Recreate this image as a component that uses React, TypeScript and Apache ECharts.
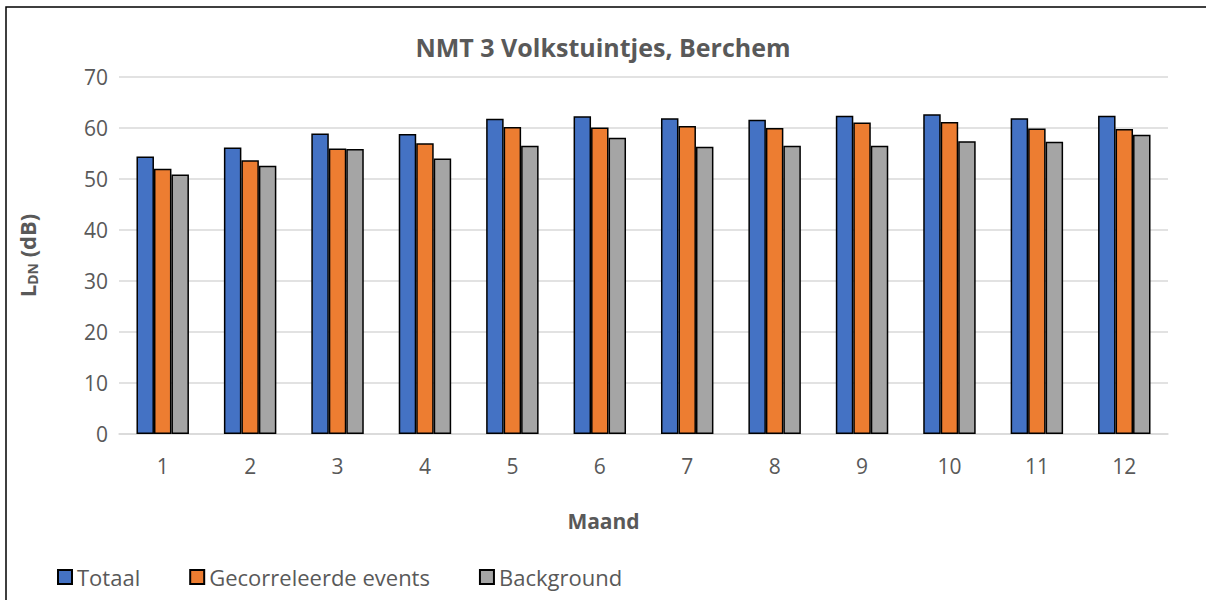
import React, { useEffect, useRef } from "react";
import * as echarts from "echarts";

const categories = ["1", "2", "3", "4", "5", "6", "7", "8", "9", "10", "11", "12"];
const totaal = [54.4, 56.2, 58.9, 58.8, 61.8, 62.3, 61.9, 61.6, 62.4, 62.7, 61.9, 62.4];
const gecorreleerd = [52.0, 53.7, 56.0, 57.0, 60.2, 60.1, 60.4, 60.0, 61.1, 61.2, 59.9, 59.8];
const background = [50.9, 52.6, 55.9, 54.0, 56.5, 58.1, 56.3, 56.5, 56.5, 57.4, 57.3, 58.7];
const seriesNames = ["Totaal", "Gecorreleerde events", "Background"];
const colors = ["#4472C4", "#ED7D31", "#A5A5A5"];

const FONT = "'Open Sans', sans-serif";
const TXT = "#595959";

export default function App() {
  const ref = useRef<HTMLDivElement>(null);
  useEffect(() => {
    if (!ref.current) return;
    const chart = echarts.init(ref.current, null, { renderer: "svg" });
    const datasets = [totaal, gecorreleerd, background];
    chart.setOption({
      animation: false,
      backgroundColor: "#ffffff",
      textStyle: { fontFamily: FONT },
      title: {
        text: "NMT 3 Volkstuintjes, Berchem",
        left: "center",
        top: 29,
        textStyle: { fontFamily: FONT, fontSize: 25, fontWeight: "bold", color: TXT },
      },
      legend: {
        left: 52,
        top: 561,
        itemWidth: 14,
        itemHeight: 14,
        itemGap: 49,
        icon: "rect",
        textStyle: { fontFamily: FONT, fontSize: 22, color: TXT },
        data: seriesNames,
      },
      graphic: [
        {
          type: "rect",
          shape: { x: 6, y: 7, width: 1220, height: 620 },
          style: { fill: "none", stroke: "#000000", lineWidth: 1.5 },
          silent: true,
        },
      ],
      grid: { left: 119, right: 38, top: 77, bottom: 166, containLabel: false },
      xAxis: {
        type: "category",
        data: categories,
        name: "Maand",
        nameLocation: "middle",
        nameGap: 76,
        nameTextStyle: { fontFamily: FONT, fontSize: 21, fontWeight: "bold", color: TXT, padding: [0, 80, 0, 0] },
        axisLine: { lineStyle: { color: "#d9d9d9", width: 1.5 } },
        axisTick: { show: false },
        axisLabel: { color: TXT, fontSize: 21, fontFamily: FONT, margin: 21 },
      },
      yAxis: {
        type: "value",
        min: 0,
        max: 70,
        interval: 10,
        name: "{l|L}{s|DN}{l| (dB)}",
        nameLocation: "middle",
        nameGap: 80,
        nameRotate: 90,
        nameTextStyle: {
          rich: {
            l: { fontFamily: FONT, fontSize: 22, fontWeight: "bold", color: TXT },
            s: { fontFamily: FONT, fontSize: 14, fontWeight: "bold", color: TXT, verticalAlign: "bottom", padding: [10, 0, 0, 0] },
          },
        },
        axisLine: { show: false },
        axisTick: { show: false },
        splitLine: { lineStyle: { color: "#d9d9d9", width: 1.5 } },
        axisLabel: { color: TXT, fontSize: 21, fontFamily: FONT, margin: 11 },
      },
      series: seriesNames.map((name, i) => ({
        name,
        type: "bar",
        data: datasets[i],
        barGap: "0%",
        barCategoryGap: "40%",
        itemStyle: { color: colors[i], borderColor: "#000000", borderWidth: 1.5 },
      })),
    });
    return () => chart.dispose();
  }, []);
  return (
    <div
      ref={ref}
      style={{ position: "fixed", left: 0, top: 0, width: 1206, height: 600, overflow: "hidden" }}
    />
  );
}
